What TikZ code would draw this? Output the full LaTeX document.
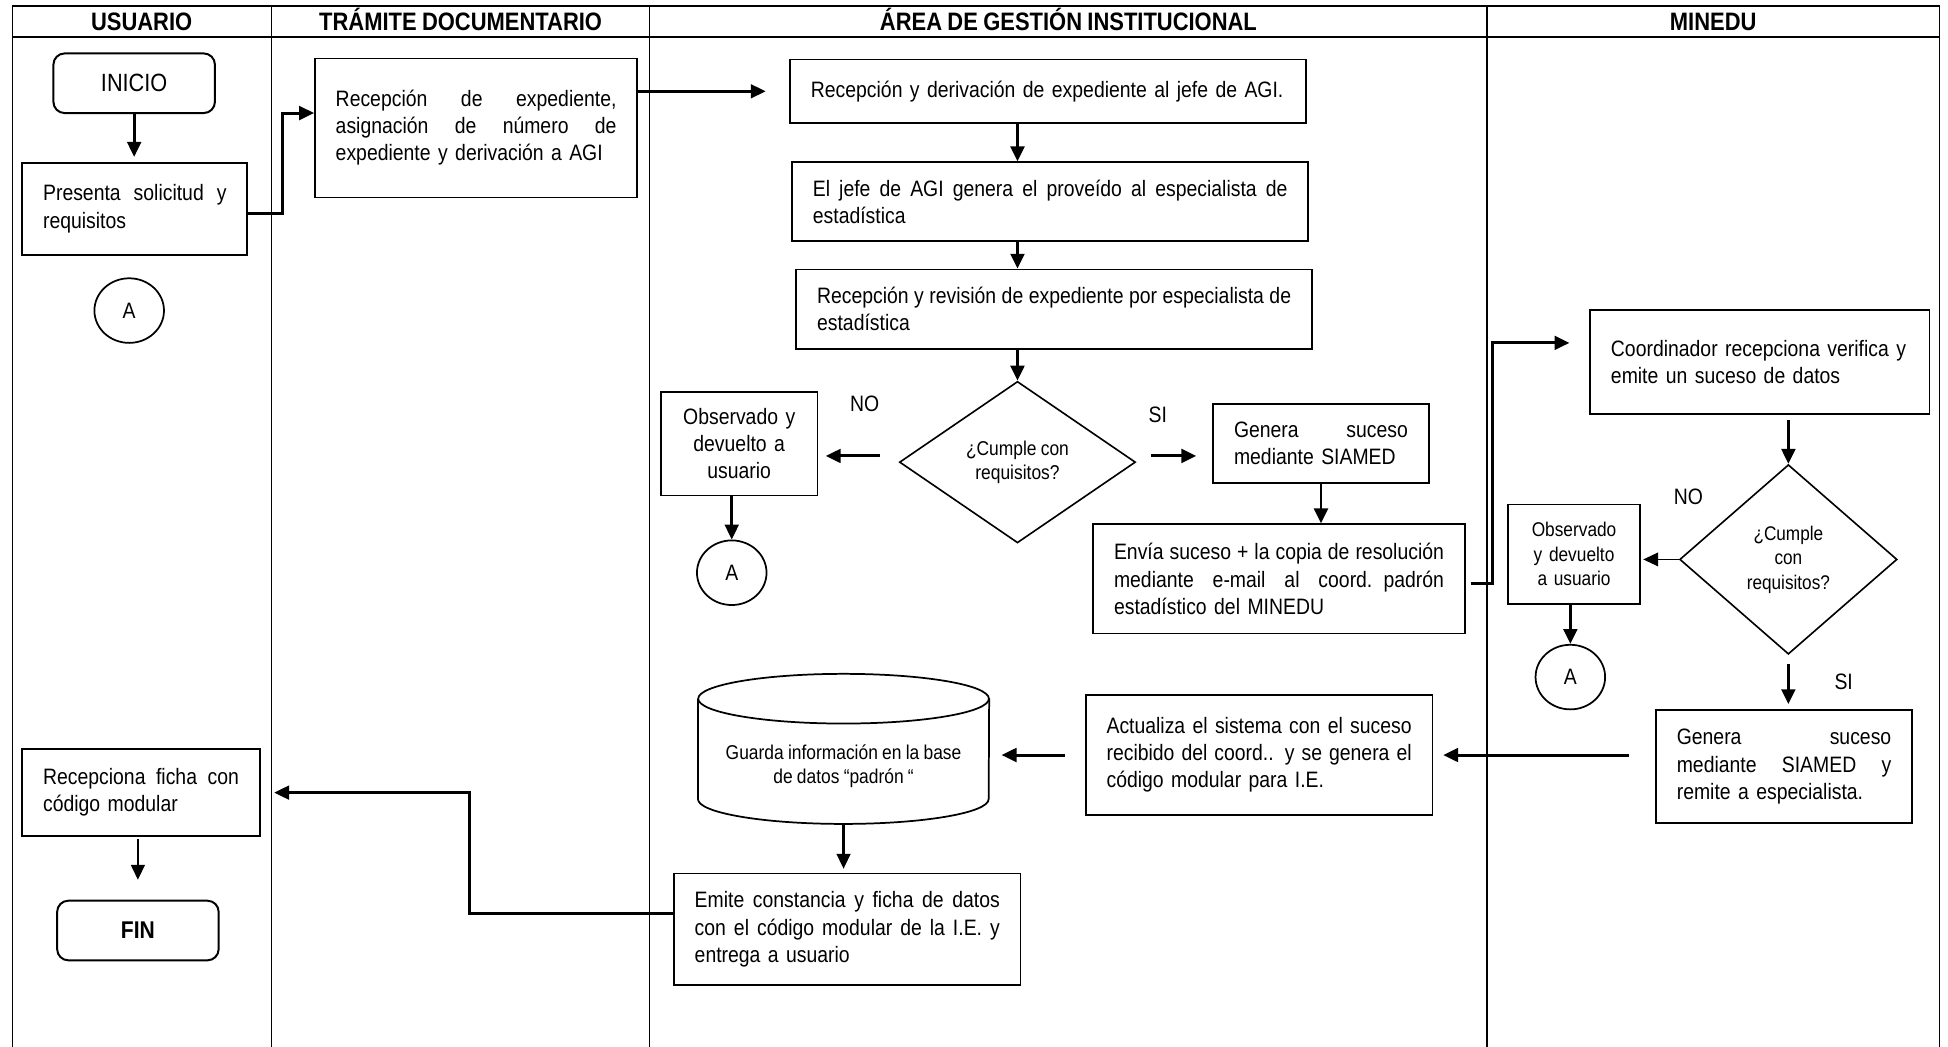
\documentclass[tikz,border=0pt]{standalone}
\usepackage{fontspec}
\setmainfont{Liberation Sans}[FakeStretch=0.87,WordSpace=0.88]
\usetikzlibrary{arrows.meta,shapes.geometric,calc}
\newcommand\bodyf{\fontsize{17.95}{21.8}\selectfont}
\newcommand\smallf{\fontsize{16.1}{19.7}\selectfont}
\newcommand\headf{\fontsize{20.3}{22}\selectfont\bfseries}
\newcommand\fl[1]{\leavevmode\hbox to\hsize{\spaceskip=\fontdimen2\font plus 1fil minus \fontdimen4\font\relax #1}}
\begin{document}
\begin{tikzpicture}[x=1pt,y=-1pt,
 box/.style={draw, line width=1.4pt, inner xsep=16.7pt, inner ysep=0pt, align=left, font=\bodyf},
 cbox/.style={box, align=center},
 term/.style={draw, line width=1.6pt, rounded corners=9pt, minimum width=130pt, minimum height=48pt, inner sep=0pt},
 conn/.style={draw, line width=1.4pt, ellipse, minimum width=56pt, minimum height=52pt, inner sep=0pt, font=\bodyf},
 dec/.style={draw, line width=1.3pt, diamond, inner sep=0pt, align=center},
 arr/.style={line width=2.4pt, -{Triangle[length=12pt,width=11pt]}},
 arrt/.style={line width=1.8pt, -{Triangle[length=12pt,width=11pt]}},
 lbl/.style={font=\bodyf, inner sep=0pt},
 head/.style={font=\headf, anchor=base, inner sep=0pt},
 frame/.style={line width=1.3pt},
 lane/.style={line width=1.1pt},
]
\fill[white] (0,0) rectangle (1568,842);
\useasboundingbox (0,0) rectangle (1568,842);

% frame and lanes
\draw[frame] (10,850) -- (10,5) -- (1561,5) -- (1561,850);
\draw[frame] (10,30) -- (1561,30);
\draw[lane] (218.5,5) -- (218.5,850);
\draw[lane] (523,5) -- (523,850);
\draw[lane] (1197,5) -- (1197,850);

\node[head] (h1) at (114,24.5) {USUARIO};
\node[head] (h2) at (370.75,24.5) {TRÁMITE DOCUMENTARIO};
\node[head] (h3) at (860,24.5) {ÁREA DE GESTIÓN INSTITUCIONAL};
\node[head] (h4) at (1379,24.5) {MINEDU};

% USUARIO
\node[term, font=\fontsize{20.1}{22}\selectfont] (inicio) at (108,67) {INICIO};
\node[box, text width=147.6pt, minimum height=74pt] (pres) at (108.5,168) {\fl{Presenta solicitud y}\\requisitos};
\node[conn] (ca1) at (104,250) {A};
\node[box, text width=157.6pt, minimum height=70pt] (recp) at (113.5,638) {\fl{Recepciona ficha con}\\código modular};
\node[term, font=\fontsize{19.5}{22}\selectfont\bfseries] (fin) at (111,749) {FIN};

% TRAMITE
\node[box, text width=226pt, minimum height=112pt] (rec) at (383.25,103) {\fl{Recepción de expediente,}\\\fl{asignación de número de}\\expediente y derivación a AGI};

% AGI
\node[box, text width=381.6pt, minimum height=51pt] (agi1) at (843.5,73.5) {Recepción y derivación de expediente al jefe de AGI.};
\node[box, text width=382pt, minimum height=63.4pt] (agi2) at (845.3,162.3) {\fl{El jefe de AGI genera el proveído al especialista de}\\estadística};
\node[box, text width=381.6pt, minimum height=64pt] (agi3) at (848.5,249) {\fl{Recepción y revisión de expediente por especialista de}\\estadística};
\node[dec, minimum width=190pt, minimum height=130pt, font=\smallf] (d1) at (819,372) {¿Cumple con\\requisitos?};
\node[cbox, text width=92.6pt, minimum height=83.5pt] (obs1) at (595,357) {Observado y\\devuelto a\\usuario};
\node[conn] (ca2) at (589,461) {A};
\node[box, text width=140pt, minimum height=64pt] (gen1) at (1063.3,357) {\fl{Genera suceso}\\mediante SIAMED};
\node[box, text width=265.6pt, minimum height=88pt] (env) at (1029.5,466) {\fl{Envía suceso + la copia de resolución}\\\fl{mediante e-mail al coord. padrón}\\estadístico del MINEDU};
\node[box, text width=245.6pt, minimum height=96.5pt] (act) at (1013.5,607.75) {\fl{Actualiza el sistema con el suceso}\\\fl{recibido del coord.. y se genera el}\\código modular para I.E.};
\node[font=\fontsize{16.1}{19.5}\selectfont, align=center, minimum width=234pt, minimum height=92pt, inner sep=0pt] (cyl) at (679,617) {Guarda información en la base\\de datos “padrón “};
\node[box, text width=245.6pt, minimum height=90pt] (emi) at (682,748) {\fl{Emite constancia y ficha de datos}\\\fl{con el código modular de la I.E. y}\\entrega a usuario};

% cylinder outline
\draw[line width=1.4pt] ($(cyl.north west)+(0,-8.4)$) -- ($(cyl.south west)+(0,-20)$) arc[start angle=180, end angle=360, x radius=117pt, y radius=20pt] -- ($(cyl.north east)+(0,-8.4)$);
\draw[line width=1.4pt] ($(cyl.north)+(0,-8.4)$) ellipse [x radius=117pt, y radius=20pt];

% MINEDU
\node[box, text width=239.6pt, minimum height=84pt] (coord) at (1416.5,291.5) {Coordinador recepciona verifica y\\emite un suceso de datos};
\node[dec, minimum width=175pt, minimum height=152.6pt, font=\fontsize{15.9}{19.7}\selectfont] (d2) at (1439.5,450.3) {¿Cumple\\con\\requisitos?};
\node[cbox, font=\fontsize{16}{19.5}\selectfont, inner xsep=4pt, text width=98pt, minimum height=80pt] (obs2) at (1267,446) {Observado\\y devuelto\\a usuario};
\node[conn] (ca3) at (1264,545) {A};
\node[box, text width=172.6pt, minimum height=91pt] (gen2) at (1436,617) {\fl{Genera suceso}\\\fl{mediante SIAMED y}\\remite a especialista.};

% labels
\node[lbl] (no1) at (696,325) {NO};
\node[lbl] (si1) at (932,334) {SI};
\node[lbl] (no2) at (1359,400) {NO};
\node[lbl] (si2) at (1484,549) {SI};

% connectors
\draw[arr, shorten >=4pt] (inicio.south) -- (inicio.south |- pres.north);
\draw[arr] ([yshift=-4pt]pres.east) -- ++(28,0) |- ([yshift=12pt]rec.west);
\draw[arr, shorten >=19pt] (rec.east |- agi1.west) -- (agi1.west);
\draw[arr] (d1.north |- agi1.south) -- (d1.north |- agi2.north);
\draw[arr] (d1.north |- agi2.south) -- (d1.north |- agi3.north);
\draw[arr] (d1.north |- agi3.south) -- (d1.north);
\coordinate (n1) at ([xshift=-15pt,yshift=5pt]d1.west);
\draw[arr, shorten >=6pt] (n1) -- (n1 -| obs1.east);
\draw[arr] (ca2.north |- obs1.south) -- (ca2.north);
\coordinate (s1) at ([xshift=12pt,yshift=5pt]d1.east);
\draw[arr, shorten >=13pt] (s1) -- (s1 -| gen1.west);
\draw[arr] (gen1.south) -- (gen1.south |- env.north);
\coordinate (c1) at ([xshift=-16pt,yshift=15.5pt]coord.west);
\draw[arr] ([xshift=4pt,yshift=-4pt]env.east) -- ++(18,0) |- (c1);
\draw[arr] ([yshift=-4pt]coord.south -| d2.north) -- (d2.north);
\draw[line width=1.2pt, -{Triangle[length=12pt,width=11pt]}, shorten >=2pt] (d2.west) -- (d2.west -| obs2.east);
\draw[arr] (ca3.north |- obs2.south) -- (ca3.north);
\draw[arr, shorten >=4pt] ([yshift=-7pt]d2.south) -- (d2.south |- gen2.north);
\coordinate (g1) at ([xshift=-21pt]gen2.west |- act.east);
\draw[arr, shorten >=8pt] (g1) -- (act.east);
\draw[arr, shorten >=10pt] ([xshift=-16pt]act.west) -- (cyl.east |- act.west);
\draw[arrt, shorten >=3pt] (cyl.south) -- (cyl.south |- emi.north);
\draw[arr] ([yshift=13pt]emi.west) -- ++(-164,0) |- ([xshift=11pt]recp.east);
\draw[arrt, shorten >=16pt] ([yshift=-2pt]fin.north |- recp.south) -- (fin.north);
\end{tikzpicture}
\end{document}
